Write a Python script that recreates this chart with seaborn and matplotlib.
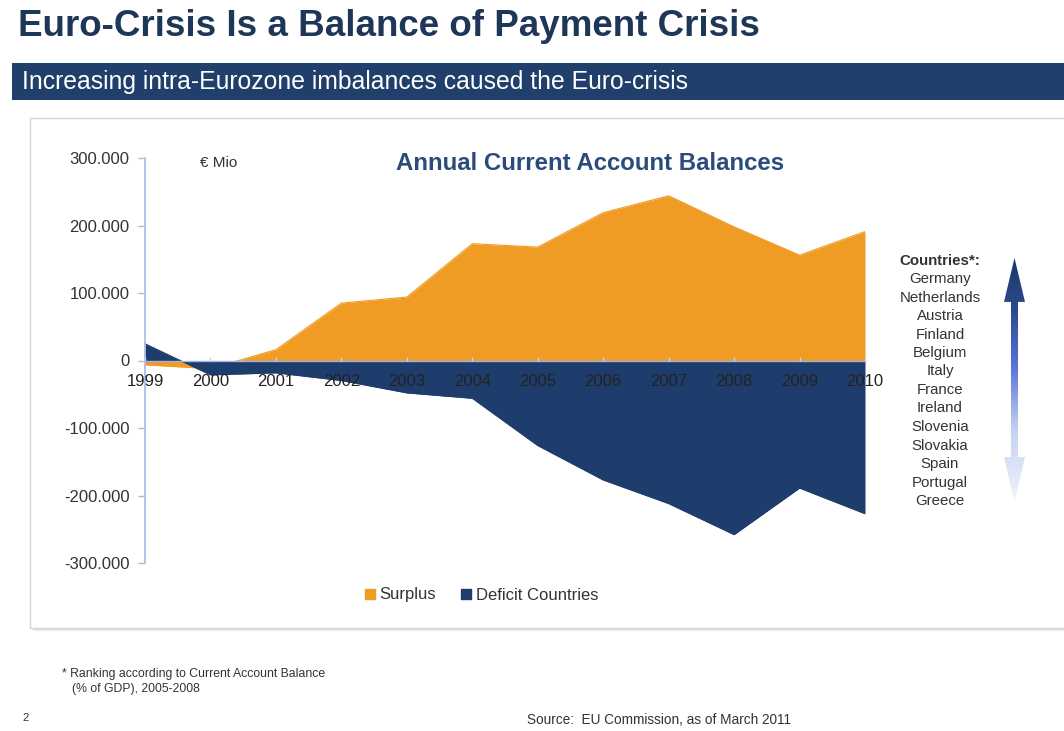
import numpy as np
import pandas as pd
import matplotlib
matplotlib.use("Agg")
import matplotlib.pyplot as plt
import seaborn as sns
from matplotlib.patches import Rectangle, Polygon
from matplotlib.lines import Line2D
from matplotlib.colors import LinearSegmentedColormap

# ---------------- data ----------------
years = [1999, 2000, 2001, 2002, 2003, 2004, 2005, 2006, 2007, 2008, 2009, 2010]
year_labels = [str(y) for y in years]
surplus = [-6400, -12000, 16000, 85000, 94000, 173000, 168000, 219000, 244000, 198000, 156000, 191000]
deficit = [24800, -21300, -18300, -29700, -48000, -56000, -126000, -177000, -212000, -258000, -189000, -227000]
series_names = ["Surplus", "Deficit Countries"]
y_ticks = [300000, 200000, 100000, 0, -100000, -200000, -300000]
y_tick_labels = ["300.000", "200.000", "100.000", "0", "-100.000", "-200.000", "-300.000"]
countries = ["Germany", "Netherlands", "Austria", "Finland", "Belgium", "Italy", "France",
             "Ireland", "Slovenia", "Slovakia", "Spain", "Portugal", "Greece"]

ORANGE = "#EF9B24"
NAVY = "#1E3D6C"
TXT = "#333333"

sns.set_theme(style="white")
plt.rcParams["font.family"] = ["Liberation Sans", "DejaVu Sans"]

W, H = 1064, 731
fig = plt.figure(figsize=(W / 100, H / 100), dpi=100)
fx = lambda px: px / W
fy = lambda py: 1 - py / H

# panel box (behind everything)
fig.patches.append(Rectangle((fx(33), fy(631)), fx(1100), (631 - 121) / H, transform=fig.transFigure,
                             facecolor="#e8e8e8", edgecolor="none", zorder=-3))
fig.patches.append(Rectangle((fx(30), fy(628)), fx(1100), (628 - 118) / H, transform=fig.transFigure,
                             facecolor="white", edgecolor="#d4d4d4", lw=1.0, zorder=-2))

# title & banner
fig.text(fx(18), fy(26), "Euro-Crisis Is a Balance of Payment Crisis", fontsize=26.5, fontweight="bold",
         color="#1e3657", va="center", ha="left")
fig.patches.append(Rectangle((fx(12), fy(100)), fx(1100), (100 - 63) / H, transform=fig.transFigure,
                             facecolor="#213F6B", edgecolor="none", zorder=-1))
fig.text(fx(22), fy(82), "Increasing intra-Eurozone imbalances caused the Euro-crisis", fontsize=17.8,
         color="white", va="center", ha="left")

# ---------------- chart ----------------
ax = fig.add_axes([fx(145), fy(563), 720 / W, (563 - 158) / H])
ax.set_zorder(2)
ax.set_facecolor("none")
df = pd.DataFrame({
    "Year": years * 2,
    "Value": surplus + deficit,
    "Series": [series_names[0]] * len(years) + [series_names[1]] * len(years),
})
ax.fill_between(years, surplus, 0, color=ORANGE, lw=0, zorder=1)
ax.fill_between(years, deficit, 0, color=NAVY, lw=0, zorder=1.1)
sns.lineplot(data=df[df.Series == series_names[0]], x="Year", y="Value", color=ORANGE, lw=0.8,
             estimator=None, ax=ax, zorder=1.05, legend=False)
sns.lineplot(data=df[df.Series == series_names[1]], x="Year", y="Value", color=NAVY, lw=0.8,
             estimator=None, ax=ax, zorder=1.15, legend=False)

ax.set_xlim(1999, 2010)
ax.set_ylim(-300000, 300000)
ax.set_xlabel("")
ax.set_ylabel("")
for s in ["top", "right"]:
    ax.spines[s].set_visible(False)
ax.spines["left"].set_color("#a9b9e6")
ax.spines["left"].set_linewidth(1.2)
ax.spines["bottom"].set_position(("data", 0))
ax.spines["bottom"].set_color("#9fb2e0")
ax.spines["bottom"].set_linewidth(1.0)
ax.set_axisbelow(False)

ax.set_xticks(years)
ax.set_xticklabels(year_labels)
ax.tick_params(axis="x", direction="in", length=3, width=1, color="#c8d2ee", pad=10,
               labelsize=12, labelcolor="#222222", bottom=True)
ax.set_yticks(y_ticks)
ax.set_yticklabels(y_tick_labels)
ax.tick_params(axis="y", direction="out", length=5, width=1, color="#a9b9e6", pad=6,
               labelsize=12, labelcolor=TXT, left=True)

fig.text(fx(200), fy(163), "€ Mio", fontsize=11, color=TXT, va="center", ha="left")
fig.text(fx(590), fy(164), "Annual Current Account Balances", fontsize=17.3, fontweight="bold",
         color="#2b4b7d", va="center", ha="center")

# legend
handles = [Line2D([], [], marker="s", linestyle="", markersize=6.5, markerfacecolor=c, markeredgecolor=c, label=n)
           for c, n in zip([ORANGE, NAVY], series_names)]
fig.legend(handles=handles, loc="center", bbox_to_anchor=(fx(481), fy(595)), ncol=2, frameon=False,
           fontsize=12, handletextpad=0.25, columnspacing=1.4, handlelength=0.7, labelcolor=TXT)

# countries list
fig.text(fx(940), fy(261), "Countries*:", fontsize=10.8, fontweight="bold", color=TXT, ha="center", va="center")
for i, c in enumerate(countries):
    fig.text(fx(940), fy(279 + i * 18.5), c, fontsize=10.8, color=TXT, ha="center", va="center")

# gradient double arrow
aax = fig.add_axes([fx(1004), fy(502), 21 / W, 244 / H])
aax.set_zorder(2)
aax.axis("off")
cmap = LinearSegmentedColormap.from_list("arr", [(0, "#f3f5fb"), (0.3, "#c4d0f0"), (0.55, "#5a76d6"),
                                                 (0.78, "#2d4c8f"), (1, "#1c3764")])
grad = np.linspace(0, 1, 256).reshape(-1, 1)
im = aax.imshow(grad, aspect="auto", cmap=cmap, extent=[0, 1, 0, 1], origin="lower")
pts = [(0.5, 1), (1, 0.82), (0.667, 0.82), (0.667, 0.184), (1, 0.184), (0.5, 0), (0, 0.184),
       (0.333, 0.184), (0.333, 0.82), (0, 0.82)]
poly = Polygon(pts, closed=True, transform=aax.transData, facecolor="none", edgecolor="none")
aax.add_patch(poly)
im.set_clip_path(poly)
aax.set_xlim(0, 1)
aax.set_ylim(0, 1)

# footnotes
fig.text(fx(62), fy(674), "* Ranking according to Current Account Balance", fontsize=8.8, color=TXT, va="center")
fig.text(fx(72), fy(689), "(% of GDP), 2005-2008", fontsize=8.8, color=TXT, va="center")
fig.text(fx(22), fy(718), "2", fontsize=8, color=TXT, va="center")
fig.text(fx(527), fy(720), "Source:  EU Commission, as of March 2011", fontsize=9.8, color=TXT, va="center")

fig.savefig("out.png", dpi=100)
